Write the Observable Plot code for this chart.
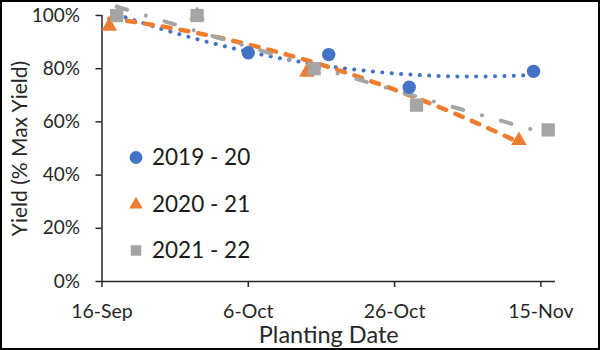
<!DOCTYPE html>
<html><head><meta charset="utf-8">
<script src="https://cdn.jsdelivr.net/npm/d3@7"></script>
<script src="https://cdn.jsdelivr.net/npm/@observablehq/plot@0.6"></script>
<style>
body{margin:0;background:#fff;}
#wrap{position:relative;width:600px;height:350px;font-family:Lato,sans-serif;overflow:hidden;}
#border{position:absolute;left:0;top:0;width:600px;height:350px;box-sizing:border-box;border:2px solid #000;pointer-events:none;}
#legend{position:absolute;left:128px;top:144px;color:#1a1a1a;font-size:22.5px;line-height:26px;}
#legend .row{display:flex;align-items:center;height:26px;margin-bottom:20.5px;}
#legend svg{margin-right:8px;}
</style></head><body>
<div id="wrap"><div id="chart"></div><div id="legend"></div><div id="border"></div></div>
<script>
// ---- data ----
const seriesNames = ["2019 - 20", "2020 - 21", "2021 - 22"];
const seriesColors = ["#4472C4", "#ED7D31", "#A5A5A5"];
const seriesSymbols = ["circle", "triangle", "square"];
const dates1920 = ["09-18", "10-06", "10-17", "10-28", "11-14"];
const yield1920 = [1.00, 0.86, 0.853, 0.73, 0.79];
const dates2021 = ["09-17", "09-29", "10-14", "11-12"];
const yield2021 = [0.96, 1.00, 0.787, 0.53];
const dates2122 = ["09-18", "09-29", "10-15", "10-29", "11-16"];
const yield2122 = [1.00, 1.00, 0.80, 0.663, 0.57];
const xTickLabels = ["09-16", "10-06", "10-26", "11-15"];
const xDomainDates = ["09-16", "11-17"];
const yTicks = [0, 0.2, 0.4, 0.6, 0.8, 1.0];

const parse = s => new Date(`2021-${s}T00:00:00Z`);
const t0 = parse("09-16");
const dayOf = d => (d - t0) / 864e5;

const rawSeries = [[dates1920, yield1920], [dates2021, yield2021], [dates2122, yield2122]];
const points = [];
rawSeries.forEach(([ds, ys], i) => ds.forEach((d, j) => points.push({date: parse(d), y: ys[j], s: seriesNames[i], k: i})));

// quadratic least-squares trendline (like Excel polynomial order 2)
function quadFit(xs, ys) {
  const S = [0,0,0,0,0], T = [0,0,0];
  xs.forEach((x, i) => { for (let p = 0; p < 5; p++) S[p] += x ** p; for (let p = 0; p < 3; p++) T[p] += ys[i] * x ** p; });
  const A = [[S[0],S[1],S[2],T[0]],[S[1],S[2],S[3],T[1]],[S[2],S[3],S[4],T[2]]];
  for (let c = 0; c < 3; c++) {
    let m = c; for (let r = c+1; r < 3; r++) if (Math.abs(A[r][c]) > Math.abs(A[m][c])) m = r;
    [A[c], A[m]] = [A[m], A[c]];
    for (let r = 0; r < 3; r++) if (r !== c) { const f = A[r][c] / A[c][c]; for (let k = c; k < 4; k++) A[r][k] -= f * A[c][k]; }
  }
  return [A[0][3]/A[0][0], A[1][3]/A[1][1], A[2][3]/A[2][2]];
}
const trends = [];
rawSeries.forEach(([ds, ys], i) => {
  const xs = ds.map(d => dayOf(parse(d)));
  const [a, b, c] = quadFit(xs, ys);
  const lo = d3.min(xs), hi = d3.max(xs), n = 120;
  for (let j = 0; j <= n; j++) {
    const x = lo + (hi - lo) * j / n;
    trends.push({date: new Date(+t0 + x * 864e5), y: a + b*x + c*x*x, k: i});
  }
});

const axisColor = "#262626", textColor = "#262626";
const dashes = ["0.1 9.3", "8 10", "11 19.5 0.1 19.5"];
const widths = [4, 4.5, 4];

const chart = Plot.plot({
  width: 600, height: 350,
  marginLeft: 101.5, marginRight: 45, marginTop: 15, marginBottom: 69,
  style: {fontFamily: "Lato, sans-serif", color: textColor, background: "transparent"},
  x: {type: "utc", domain: xDomainDates.map(parse)},
  y: {domain: [0, 1]},
  marks: [
    Plot.axisY({ticks: yTicks, tickFormat: d3.format(".0%"), tickSize: 6, tickPadding: 16, fontSize: 19, label: null, stroke: axisColor, strokeWidth: 1.5}),
    Plot.axisX({ticks: xTickLabels.map(parse), tickFormat: d3.utcFormat("%-d-%b"), tickSize: 6, tickPadding: 17, fontSize: 19.5, label: null, stroke: axisColor, strokeWidth: 1.5}),
    Plot.ruleX([parse(xDomainDates[0])], {stroke: axisColor, strokeWidth: 1.5}),
    Plot.ruleY([0], {stroke: axisColor, strokeWidth: 1.5}),
    ...[0,1,2].map(k => Plot.line(trends.filter(d => d.k === k), {x: "date", y: "y", stroke: seriesColors[k], strokeWidth: widths[k], strokeDasharray: dashes[k], strokeLinecap: "round", curve: "linear"})),
    ...[0,1,2].map(k => Plot.dot(points.filter(d => d.k === k), {x: "date", y: "y", fill: seriesColors[k], stroke: "none", symbol: seriesSymbols[k], r: [6.7, 5.8, 7.5][k]})),
    Plot.text(["Planting Date"], {frameAnchor: "bottom", dy: 61, fontSize: 23.5, fill: textColor}),
    Plot.text(["Yield (% Max Yield)"], {frameAnchor: "left", dx: -82, rotate: -90, textAnchor: "middle", fontSize: 21, fill: textColor})
  ]
});
document.getElementById("chart").appendChild(chart);

// legend
const legend = d3.select("#legend");
seriesNames.forEach((name, i) => {
  const row = legend.append("div").attr("class", "row");
  const svg = row.append("svg").attr("width", 16).attr("height", 16);
  svg.append("path").attr("transform", "translate(8,8.5)")
    .attr("d", d3.symbol(i === 0 ? d3.symbolCircle : i === 1 ? d3.symbolTriangle : d3.symbolSquare, [130, 80, 110][i])())
    .attr("fill", seriesColors[i]);
  row.append("span").text(name);
});
</script>
</body></html>
